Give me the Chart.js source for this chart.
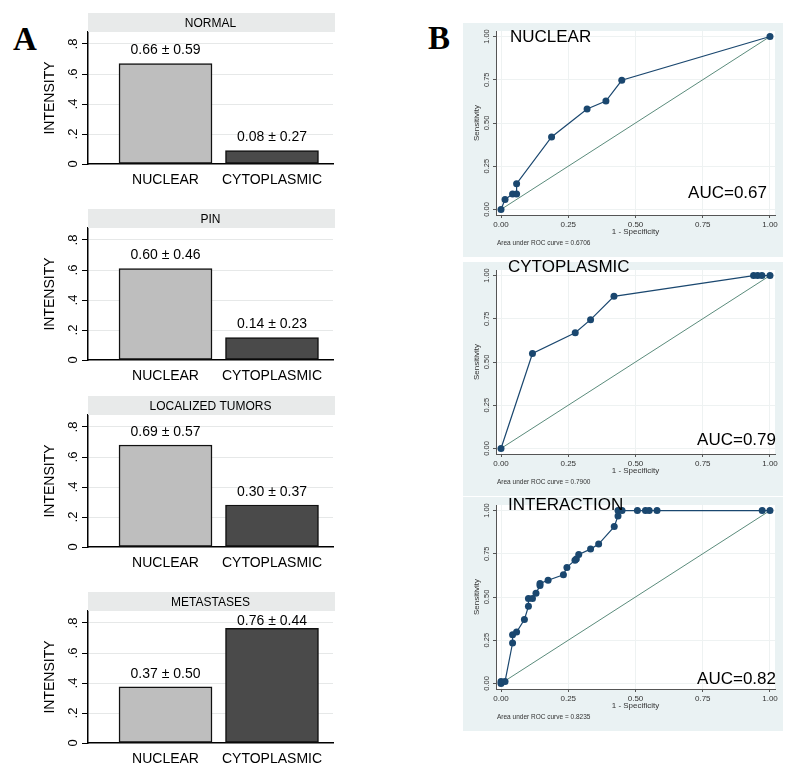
<!DOCTYPE html>
<html>
<head>
<meta charset="utf-8">
<script src="https://cdn.jsdelivr.net/npm/chart.js@4.4.1/dist/chart.umd.min.js"></script>
<style>
body { margin: 0; background: #fff; width: 800px; height: 777px; position: relative; overflow: hidden; }
canvas { position: absolute; }
.tag { position: absolute; font: bold 33px "Liberation Serif", "Times New Roman", serif; line-height: 33px; color: #000; }
</style>
</head>
<body>
<div class="tag" style="left:13px;top:23px">A</div>
<div class="tag" style="left:428px;top:22px">B</div>
<script>
const FONT = '"Liberation Sans", Arial, sans-serif'

// panel A: mean intensity per group
const barGroups = ['NORMAL', 'PIN', 'LOCALIZED TUMORS', 'METASTASES']
const barCategories = ['NUCLEAR', 'CYTOPLASMIC']
const nuclearMeans = [0.67, 0.61, 0.68, 0.375]
const cytoplasmicMeans = [0.09, 0.15, 0.28, 0.765]
const nuclearLabels = ['0.66 ± 0.59', '0.60 ± 0.46', '0.69 ± 0.57', '0.37 ± 0.50']
const cytoplasmicLabels = ['0.08 ± 0.27', '0.14 ± 0.23', '0.30 ± 0.37', '0.76 ± 0.44']
const intensityTicks = [0, 0.2, 0.4, 0.6, 0.8]
const intensityTickLabels = ['0', '.2', '.4', '.6', '.8']

// panel B: ROC curves (1 - specificity, sensitivity)
const rocTitles = ['NUCLEAR', 'CYTOPLASMIC', 'INTERACTION']
const rocAuc = ['AUC=0.67', 'AUC=0.79', 'AUC=0.82']
const rocAreaText = ['Area under ROC curve = 0.6706', 'Area under ROC curve = 0.7900', 'Area under ROC curve = 0.8235']
const nuclearFpr = [0, 0.015, 0.043, 0.058, 0.058, 0.188, 0.32, 0.39, 0.449, 1]
const nuclearTpr = [0, 0.058, 0.089, 0.089, 0.149, 0.419, 0.581, 0.627, 0.747, 1]
const cytoFpr = [0, 0.117, 0.276, 0.333, 0.42, 0.939, 0.954, 0.970, 1]
const cytoTpr = [0, 0.549, 0.669, 0.745, 0.880, 1, 1, 1, 1]
const interFpr = [0, 0, 0.015, 0.043, 0.043, 0.058, 0.087, 0.102, 0.102, 0.117, 0.130, 0.145, 0.145, 0.175, 0.232, 0.245, 0.275, 0.280, 0.289, 0.333, 0.363, 0.421, 0.435, 0.435, 0.450, 0.507, 0.537, 0.551, 0.580, 0.971, 1]
const interTpr = [0, 0.012, 0.012, 0.234, 0.281, 0.297, 0.370, 0.446, 0.492, 0.492, 0.521, 0.566, 0.578, 0.597, 0.628, 0.671, 0.713, 0.720, 0.746, 0.777, 0.806, 0.907, 0.969, 1, 1, 1, 1, 1, 1, 1, 1]
const rocTicks = [0, 0.25, 0.5, 0.75, 1]

// layout bits
const barTops = [13, 209, 396, 592]
const rocTops = [23, 262, 497]
const rocTitleY = [14, 5, 8]
const rocAucRight = [304, 313, 313]
const rocAucY = [170, 178, 182]
const ROC_EXTRA = 8 // canvas starts a little above the panel so titles can overhang

function barDecor(i) {
    return {
        id: 'barDecor' + i,
        afterDraw(chart) {
            const ctx = chart.ctx
            const a = chart.chartArea
            const y = chart.scales.y
            ctx.save()
            // strip header
            ctx.fillStyle = '#e8eaea'
            ctx.fillRect(a.left, 0, a.right + 2 - a.left, a.top)
            ctx.fillStyle = '#000'
            ctx.textAlign = 'center'
            ctx.textBaseline = 'middle'
            ctx.font = '12px ' + FONT
            ctx.fillText(barGroups[i], (a.left + a.right) / 2, a.top / 2 + 1)
            // value labels
            ctx.font = '14px ' + FONT
            const bars = chart.getDatasetMeta(0).data
            const labels = [nuclearLabels[i], cytoplasmicLabels[i]]
            bars.forEach((b, j) => {
                const ly = Math.max(b.y - 13, a.top + 10)
                ctx.fillText(labels[j], b.x, ly)
            })
            // rotated y tick labels
            ctx.font = '13px ' + FONT
            intensityTicks.forEach((v, k) => {
                ctx.save()
                ctx.translate(73, y.getPixelForValue(v))
                ctx.rotate(-Math.PI / 2)
                ctx.fillText(intensityTickLabels[k], 0, 0)
                ctx.restore()
            })
            ctx.font = '14px ' + FONT
            ctx.translate(50, (a.top + a.bottom) / 2)
            ctx.rotate(-Math.PI / 2)
            ctx.fillText('INTENSITY', 0, 0)
            ctx.restore()
        }
    }
}

function drawBarPanel(i) {
    const canvas = document.createElement('canvas')
    canvas.width = 345
    canvas.height = 185
    canvas.style.left = '0px'
    canvas.style.top = barTops[i] + 'px'
    document.body.appendChild(canvas)
    new Chart(canvas, {
        type: 'bar',
        data: {
            datasets: [{
                data: [{ x: 1, y: nuclearMeans[i] }, { x: 2, y: cytoplasmicMeans[i] }],
                backgroundColor: ['#bebebe', '#4a4a4a'],
                borderColor: '#111',
                borderWidth: 1.5,
                borderSkipped: false,
                barThickness: 93
            }]
        },
        options: {
            responsive: false,
            animation: false,
            events: [],
            layout: { padding: { top: 19, right: 12, left: 0, bottom: 0 } },
            plugins: { legend: { display: false }, tooltip: { enabled: false } },
            scales: {
                x: {
                    type: 'linear',
                    offset: false,
                    min: 0.272,
                    max: 2.573,
                    grid: { display: false, drawTicks: false },
                    border: { color: '#000', width: 1.5 },
                    afterBuildTicks: s => { s.ticks = [{ value: 1 }, { value: 2 }] },
                    afterFit: s => { s.height = 34 },
                    ticks: {
                        font: { size: 14, family: FONT },
                        color: '#000',
                        padding: 8,
                        autoSkip: false,
                        maxRotation: 0,
                        callback: v => barCategories[v - 1]
                    }
                },
                y: {
                    min: 0,
                    max: 0.88,
                    afterBuildTicks: s => { s.ticks = intensityTicks.map(v => ({ value: v })) },
                    afterFit: s => { s.width = 88 },
                    ticks: { display: false },
                    grid: {
                        color: c => (c.tick && c.tick.value === 0) ? 'rgba(0,0,0,0)' : '#e6e8e8',
                        tickColor: '#000',
                        tickLength: 6
                    },
                    border: { color: '#000', width: 1.5 }
                }
            }
        },
        plugins: [barDecor(i)]
    })
}

function rocDecor(i) {
    return {
        id: 'rocDecor' + i,
        beforeDraw(chart) {
            const ctx = chart.ctx
            const a = chart.chartArea
            ctx.save()
            ctx.fillStyle = '#eaf2f3'
            ctx.fillRect(0, ROC_EXTRA, chart.width, chart.height - ROC_EXTRA)
            ctx.fillStyle = '#fff'
            ctx.fillRect(a.left, a.top, a.right - a.left, a.bottom - a.top)
            ctx.restore()
        },
        afterDraw(chart) {
            const ctx = chart.ctx
            const a = chart.chartArea
            const y = chart.scales.y
            ctx.save()
            ctx.fillStyle = '#333'
            ctx.textAlign = 'center'
            ctx.textBaseline = 'middle'
            ctx.font = '7.5px ' + FONT
            rocTicks.forEach(v => {
                ctx.save()
                ctx.translate(23.5, y.getPixelForValue(v))
                ctx.rotate(-Math.PI / 2)
                ctx.fillText(v.toFixed(2), 0, 0)
                ctx.restore()
            })
            ctx.font = '8px ' + FONT
            ctx.save()
            ctx.translate(14, (a.top + a.bottom) / 2)
            ctx.rotate(-Math.PI / 2)
            ctx.fillText('Sensitivity', 0, 0)
            ctx.restore()
            ctx.fillText('1 - Specificity', (a.left + a.right) / 2, a.bottom + 17)
            ctx.textAlign = 'left'
            ctx.font = '6.5px ' + FONT
            ctx.fillText(rocAreaText[i], a.left + 1, a.bottom + 28)
            ctx.fillStyle = '#000'
            ctx.font = '17px ' + FONT
            ctx.fillText(rocTitles[i], 45 + (i === 0 ? 2 : 0), rocTitleY[i] + ROC_EXTRA)
            ctx.textAlign = 'right'
            ctx.fillText(rocAuc[i], rocAucRight[i], rocAucY[i] + ROC_EXTRA)
            ctx.restore()
        }
    }
}

function drawRocPanel(i, fpr, tpr) {
    const canvas = document.createElement('canvas')
    canvas.width = 320
    canvas.height = 234 + ROC_EXTRA
    canvas.style.left = '463px'
    canvas.style.top = (rocTops[i] - ROC_EXTRA) + 'px'
    document.body.appendChild(canvas)
    new Chart(canvas, {
        type: 'scatter',
        data: {
            datasets: [{
                data: fpr.map((x, k) => ({ x: x, y: tpr[k] })),
                showLine: true,
                borderColor: '#1a476f',
                backgroundColor: '#1a476f',
                borderWidth: 1.2,
                pointRadius: 3.5,
                pointBorderWidth: 0
            }, {
                data: [{ x: 0, y: 0 }, { x: 1, y: 1 }],
                showLine: true,
                borderColor: '#5b8c7c',
                borderWidth: 1,
                pointRadius: 0
            }]
        },
        options: {
            responsive: false,
            animation: false,
            events: [],
            layout: { padding: { top: 8 + ROC_EXTRA, right: 8, left: 0, bottom: 0 } },
            plugins: { legend: { display: false }, tooltip: { enabled: false } },
            scales: {
                x: {
                    type: 'linear',
                    min: -0.0186,
                    max: 1.0186,
                    afterBuildTicks: s => { s.ticks = rocTicks.map(v => ({ value: v })) },
                    afterFit: s => { s.height = 42 },
                    grid: { color: '#eef2f2', tickColor: '#555', tickLength: 3 },
                    border: { color: '#555', width: 1 },
                    ticks: {
                        font: { size: 8, family: FONT },
                        color: '#333',
                        padding: 2,
                        autoSkip: false,
                        maxRotation: 0,
                        callback: v => v.toFixed(2)
                    }
                },
                y: {
                    min: -0.032,
                    max: 1.032,
                    afterBuildTicks: s => { s.ticks = rocTicks.map(v => ({ value: v })) },
                    afterFit: s => { s.width = 33 },
                    ticks: { display: false },
                    grid: { color: '#eef2f2', tickColor: '#555', tickLength: 3 },
                    border: { color: '#555', width: 1 }
                }
            }
        },
        plugins: [rocDecor(i)]
    })
}

barGroups.forEach((g, i) => drawBarPanel(i))
drawRocPanel(0, nuclearFpr, nuclearTpr)
drawRocPanel(1, cytoFpr, cytoTpr)
drawRocPanel(2, interFpr, interTpr)
</script>
</body>
</html>
